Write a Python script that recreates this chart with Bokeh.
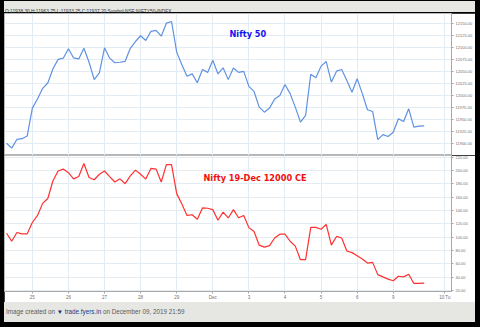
from bokeh.plotting import figure
from bokeh.layouts import column
from bokeh.models import Range1d, FixedTicker, NumeralTickFormatter, Label, Div
from bokeh.embed import file_html
from bokeh.resources import INLINE

# ---- data (hourly bars, Nov 22 2019 - Dec 09 2019) ----
nifty = [11901, 11891, 11909, 11910.5, 11916, 11974, 11993, 12015, 12026, 12055.5,
         12075, 12077.5, 12097, 12078, 12076, 12098, 12069, 12033, 12047, 12099,
         12077.5, 12068, 12069, 12071, 12098, 12112, 12124, 12114, 12133, 12135,
         12123, 12150, 12153.5, 12090, 12064, 12040, 12045, 12026.5, 12054, 12048,
         12073, 12045, 12057.5, 12033, 12057, 12048, 12050, 12019, 12008.5, 11976,
         11965.5, 11974, 11993, 12000, 12023, 12004, 11976, 11945, 11959, 12044,
         12037, 12061, 12070.5, 12028, 12050.5, 12054, 12031, 12007, 12035, 12004,
         11970.5, 11967, 11908.5, 11919, 11915, 11924, 11952, 11946, 11972.5, 11934.5,
         11936.5, 11937.2]

option_ce = [105.9, 93.9, 107, 105, 105, 122, 132.6, 150.7, 158, 184.6,
             199.2, 202.1, 196.7, 187.5, 190.9, 210.4, 189.4, 186.1, 194.4, 199.2,
             190.9, 182.7, 187.5, 180.2, 191.9, 200.6, 194.4, 187.1, 203.1, 202.1,
             182.7, 208.9, 208.9, 165.3, 149.6, 132.6, 133.6, 126.8, 143.8, 143.4,
             141.3, 125.3, 137.5, 128.8, 141.3, 129.2, 132.6, 114.3, 108.4, 88,
             85.1, 87.4, 98.7, 104.5, 104.5, 93.9, 86.6, 66.2, 66.2, 114.7,
             114.7, 111.8, 119.1, 88, 101.1, 98.7, 79.3, 76.8, 72, 67.1,
             61.2, 62.2, 43.8, 40.4, 37.1, 34.6, 41.4, 40.4, 44.3, 30.6,
             30.6, 31.2]

bars = list(range(len(nifty)))

day_ticks = [5, 12, 19, 26, 33, 40, 47, 54, 61, 68, 75, 85]
day_labels = ["25", "26", "27", "28", "29", "Dec", "3", "4", "5", "6", "9", "10 Tu"]

nifty_ticks = [11900, 11925, 11950, 11975, 12000, 12025, 12050, 12075, 12100, 12125, 12150]
option_ticks = [20, 40, 60, 80, 100, 120, 140, 160, 180, 200, 220]

header_text = "O:11938.30 H:11963.75 L:11933.25 C:11937.20 Symbol:NSE:NIFTY50-INDEX"
title_top = "Nifty 50"
title_bottom = "Nifty 19-Dec 12000 CE"

GRID = "#e3ebf3"
AXIS = "#a8a8a8"
LABEL = "#707070"

x_rng = Range1d(-0.4, 86.3)


def style(p):
    p.background_fill_color = "white"
    p.border_fill_color = "white"
    p.outline_line_color = "#b8b8b8"
    p.xgrid.ticker = FixedTicker(ticks=day_ticks)
    p.xgrid.grid_line_color = GRID
    p.ygrid.grid_line_color = GRID
    for ax in p.yaxis:
        ax.axis_line_color = AXIS
        ax.major_tick_line_color = AXIS
        ax.major_tick_out = 2
        ax.major_tick_in = 0
        ax.minor_tick_line_color = None
        ax.major_label_standoff = 2
        ax.major_label_text_font_size = "4px"
        ax.major_label_text_color = LABEL
        ax.major_label_text_font = "Liberation Sans"
        ax.formatter = NumeralTickFormatter(format="0.00")


top = figure(width=471, height=142, x_range=x_rng, y_range=Range1d(11875.7, 12170.1),
             output_backend="svg", toolbar_location=None,
             x_axis_location=None, y_axis_location="right",
             min_border_left=0, min_border_top=0, min_border_bottom=0, min_border_right=22,
             margin=(0, 5, 0, 4))
top.line(bars, nifty, line_color="#5f92e2", line_width=1.2)
top.yaxis.ticker = FixedTicker(ticks=nifty_ticks)
top.ygrid.ticker = FixedTicker(ticks=nifty_ticks)
style(top)
top.add_layout(Label(x=225, y=122, x_units="screen", y_units="screen", text=title_top,
                     text_font="DejaVu Sans", text_font_style="bold", text_font_size="8.2px",
                     text_color="#1414f0", text_baseline="middle"))

bot = figure(width=471, height=147, x_range=x_rng, y_range=Range1d(18.5, 222.5),
             output_backend="svg", toolbar_location=None,
             x_axis_location="below", y_axis_location="right",
             min_border_left=0, min_border_top=0, min_border_bottom=7, min_border_right=22,
             margin=(0, 5, 0, 4))
bot.line(bars, option_ce, line_color="#ff3030", line_width=1.2)
bot.yaxis.ticker = FixedTicker(ticks=option_ticks)
bot.ygrid.ticker = FixedTicker(ticks=option_ticks)
style(bot)
xa = bot.xaxis[0]
xa.ticker = FixedTicker(ticks=day_ticks)
xa.major_label_overrides = {t: l for t, l in zip(day_ticks, day_labels)}
xa.axis_line_color = AXIS
xa.major_tick_line_color = AXIS
xa.major_tick_out = 2
xa.major_tick_in = 0
xa.minor_tick_line_color = None
xa.major_label_standoff = 1
xa.major_label_text_font_size = "4.5px"
xa.major_label_text_color = LABEL
xa.major_label_text_font = "Liberation Sans"
bot.add_layout(Label(x=199, y=114, x_units="screen", y_units="screen", text=title_bottom,
                     text_font="DejaVu Sans", text_font_style="bold", text_font_size="8.2px",
                     text_color="#f01010", text_baseline="middle"))

header = Div(text=f'<div style="font-family:\'Liberation Sans\';font-size:4.8px;color:#333;'
                  f'padding:3px 0 0 1px;line-height:5px;white-space:nowrap;">{header_text}</div>',
             width=471, height=11, margin=(1, 5, 1, 4),
             styles={"background-color": "#e6e6e2"})

footer = Div(text='<div style="font-family:\'Liberation Sans\';font-size:6.3px;color:#5a5a5a;'
                  'padding:6px 0 0 2px;line-height:8px;white-space:nowrap;">Image created on '
                  '<span style="color:#1b2f7a;">&#9660;</span> '
                  '<span style="color:#1b3a8c;">trade.fyers.in</span> on December 09, 2019 21:59</div>',
             width=471, height=20, margin=(0, 5, 5, 4),
             styles={"background-color": "#e6e6e2"})

p = column(header, top, bot, footer, width=480, height=327,
           styles={"background-color": "black"}, spacing=0)

open("out.html", "w").write(file_html(p, INLINE))
